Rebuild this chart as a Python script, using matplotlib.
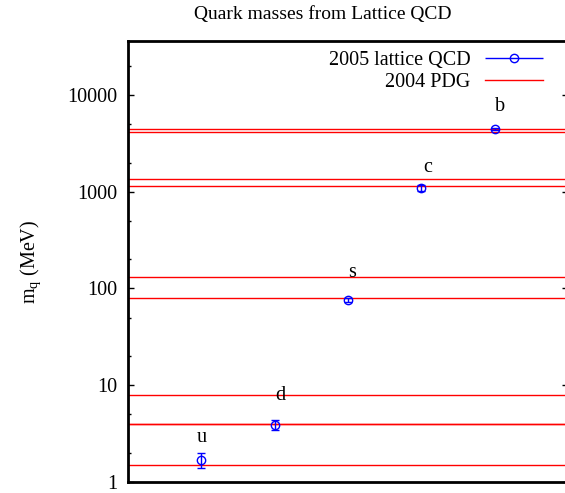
import matplotlib
matplotlib.use("Agg")
import matplotlib.pyplot as plt
from matplotlib.legend_handler import HandlerErrorbar
from matplotlib.ticker import LogLocator, NullFormatter, FixedLocator
import numpy as np

plt.rcParams['font.family'] = ['Liberation Serif', 'DejaVu Serif']
plt.rcParams['mathtext.fontset'] = 'custom'
plt.rcParams['mathtext.rm'] = 'Liberation Serif'
plt.rcParams['mathtext.it'] = 'Liberation Serif'

# lattice QCD 2005 results
quarks = ['u', 'd', 's', 'c', 'b']
xpos = [1, 2, 3, 4, 5]
mass = [1.7, 3.9, 76, 1100, 4450]
mass_err = [0.3, 0.45, 4, 80, 150]

# PDG 2004 ranges (lower, upper)
pdg_lo = [1.5, 4, 80, 1150, 4100]
pdg_hi = [4, 8, 130, 1350, 4400]

# label heights relative to the point
label_fac = [1.7, 2.0, 1.9, 1.6, 1.7]
label_dx = [0.0, 0.07, 0.05, 0.08, 0.07]

fs = 14.5

fig = plt.figure(figsize=(5.65, 4.93), dpi=100)
ax = fig.add_axes([0.2265, 0.0223, 0.779, 0.8945])

# pdg lines
for i in range(len(pdg_lo)):
    lab = '2004 PDG' if i == 0 else None
    ax.axhline(pdg_lo[i], color='red', lw=1.0, label=lab)
    ax.axhline(pdg_hi[i], color='red', lw=1.0)

ax.errorbar(xpos, mass, yerr=mass_err, fmt='o', color='blue', mfc='none',
            ms=6, mew=1.0, elinewidth=1.0, capsize=3, capthick=1.0)

# proxy with horizontal bar for the key (gnuplot style)
proxy = ax.errorbar([], [], xerr=[], fmt='o', color='blue', mfc='none',
                    ms=6, mew=1.0, elinewidth=1.0, capsize=3, capthick=1.0,
                    label='2005 lattice QCD')

for i in range(len(quarks)):
    ax.text(xpos[i] + label_dx[i], mass[i] * label_fac[i], quarks[i],
            ha='center', va='center', fontsize=fs)

ax.set_yscale('log')
ax.set_ylim(1, 36000)
ax.set_xlim(0, 6)
ax.set_xticks([])
ax.yaxis.set_major_locator(FixedLocator([1, 10, 100, 1000, 10000]))
ax.set_yticklabels(['1', '10', '100', '1000', '10000'])
ax.yaxis.set_minor_locator(LogLocator(base=10, subs=(2.0, 5.0)))
ax.yaxis.set_minor_formatter(NullFormatter())
ax.tick_params(axis='y', which='both', direction='in', right=True,
               labelsize=fs, width=1, pad=8)
ax.tick_params(axis='y', which='major', length=4)
ax.tick_params(axis='y', which='minor', length=2.5)
for sp in ax.spines.values():
    sp.set_linewidth(2)

ax.set_ylabel(r'm$_\mathrm{q}$ (MeV)', fontsize=fs, labelpad=17)
fig.text(323 / 565, 1 - 14 / 493, 'Quark masses from Lattice QCD',
         fontsize=14, ha='center', va='center')

handles, labels = ax.get_legend_handles_labels()
order = [labels.index('2005 lattice QCD'), labels.index('2004 PDG')]
ax.legend([handles[k] for k in order], [labels[k] for k in order],
          loc='upper right', bbox_to_anchor=(0.975, 1.01), frameon=False,
          markerfirst=False, handlelength=2.9, fontsize=fs, labelspacing=0.15,
          handletextpad=0.7, borderaxespad=0.3,
          handler_map={type(proxy): HandlerErrorbar(xerr_size=1.45)})

fig.savefig('out.png', dpi=100)
